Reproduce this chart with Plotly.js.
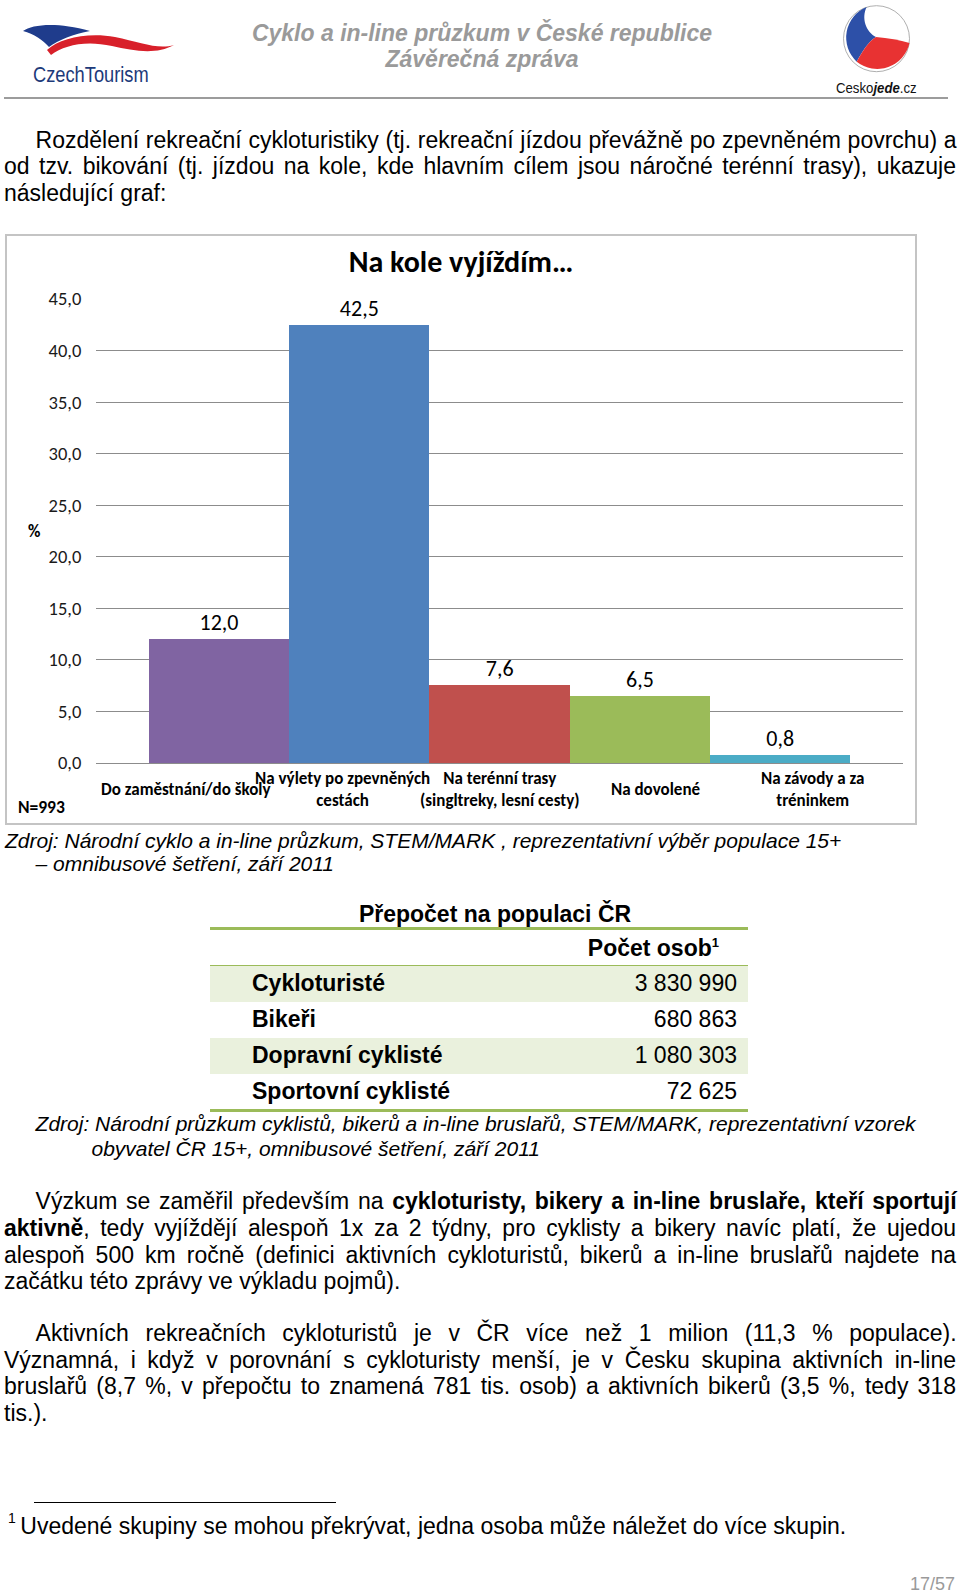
<!DOCTYPE html>
<html><head><meta charset="utf-8">
<script src="https://cdn.plot.ly/plotly-3.0.1.min.js"></script>
<style>
html,body{margin:0;padding:0;background:#fff;}
body{width:960px;height:1594px;position:relative;overflow:hidden;font-family:"Liberation Sans",Arial,sans-serif;color:#000;}
.ab{position:absolute;white-space:nowrap;}
.ln{position:absolute;height:27px;line-height:27px;font-size:23px;white-space:nowrap;}
.j{text-align:justify;text-align-last:justify;white-space:normal;}
.src{font-style:italic;font-size:21px;}
#chartbox{position:absolute;left:5px;top:234px;width:912px;height:591px;box-sizing:border-box;border:2px solid #c4c4c4;}
#chart{width:908px;height:587px;}
.trow{position:absolute;left:210px;width:538px;height:35.5px;}
.tlab{position:absolute;left:42px;top:0;line-height:35.5px;font-size:23px;font-weight:bold;white-space:nowrap;}
.tval{position:absolute;right:11px;top:0;line-height:35.5px;font-size:23px;white-space:nowrap;}
.gline{position:absolute;left:210px;width:538px;height:3px;background:#9bbb59;}
</style>
</head>
<body>
<!-- Header -->
<svg class="ab" style="left:0;top:0" width="960" height="100" viewBox="0 0 960 100">
  <path d="M23,31 C33,24 58,22 90,31 C74,34 58,40 49,47 C43,40 34,34 23,31 Z" fill="#1f3c8c"/>
  <path d="M47,50 C60,38 88,32 115,37 C140,42 158,50 174,45 C156,55 134,51 112,46 C86,40 64,45 51,55 Z" fill="#d8202a"/>
  <circle cx="876.5" cy="38.7" r="33" fill="#fff" stroke="#9a9a9a" stroke-width="0.8"/>
  <path d="M866.7,7 A33,33 0 0 0 856.7,61.7 C862,52 868,42 876,37 C866,32 861,18 866.7,7 Z" fill="#2d50a8"/>
  <path d="M876,37 C888,38 900,40 909.5,43 A33,33 0 0 1 856.7,61.7 C862,52 868,42 876,37 Z" fill="#e83232"/>
  <rect x="4" y="97" width="944" height="2" fill="#9c9c9c"/>
</svg>
<div class="ab" style="left:33px;top:63px;font-size:22px;color:#1d3a7a;line-height:24px;transform:scaleX(0.83);transform-origin:0 0;">CzechTourism</div>
<div class="ab" style="left:836px;top:79px;font-size:15px;line-height:18px;color:#111;transform:scaleX(0.88);transform-origin:0 0;">Cesko<b><i>jede</i></b>.cz</div>
<div class="ab" style="left:200px;top:20px;width:564px;text-align:center;font-style:italic;font-weight:bold;font-size:23px;line-height:26px;color:#9a9a9a;">Cyklo a in-line průzkum v České republice<br>Závěrečná zpráva</div>

<!-- Paragraph 1 -->
<div class="ln j" style="left:35.6px;width:921px;top:126.5px;">Rozdělení rekreační cykloturistiky (tj. rekreační jízdou převážně po zpevněném povrchu) a</div>
<div class="ln j" style="left:4px;width:952px;top:153.2px;">od tzv. bikování (tj. jízdou na kole, kde hlavním cílem jsou náročné terénní trasy), ukazuje</div>
<div class="ln" style="left:4px;top:179.8px;">následující graf:</div>

<div id="chartbox"><div id="chart"></div></div>

<div class="ln src" style="left:5px;top:826.5px;">Zdroj: Národní cyklo a in-line průzkum, STEM/MARK , reprezentativní výběr populace 15+</div>
<div class="ln src" style="left:35.6px;top:850px;">– omnibusové šetření, září 2011</div>

<!-- Table -->
<div class="ab" style="left:345px;top:900px;width:300px;text-align:center;font-size:23px;font-weight:bold;line-height:28px;">Přepočet na populaci ČR</div>
<div class="gline" style="top:927px;"></div>
<div class="ab" style="left:500px;top:934px;width:219px;text-align:right;font-size:23px;font-weight:bold;line-height:28px;">Počet osob<sup style="font-size:13px;vertical-align:9px;line-height:0;">1</sup></div>
<div id="tbl"></div>

<div class="ln src" style="left:35.6px;top:1110.2px;">Zdroj: Národní průzkum cyklistů, bikerů a in-line bruslařů, STEM/MARK, reprezentativní vzorek</div>
<div class="ln src" style="left:91.5px;top:1134.5px;">obyvatel ČR 15+, omnibusové šetření, září 2011</div>

<!-- Paragraph 2 -->
<div class="ln j" style="left:35.6px;width:921px;top:1188.2px;">Výzkum se zaměřil především na <b>cykloturisty, bikery a in-line bruslaře, kteří sportují</b></div>
<div class="ln j" style="left:4px;width:952px;top:1214.8px;"><b>aktivně</b>, tedy vyjíždějí alespoň 1x za 2 týdny, pro cyklisty a bikery navíc platí, že ujedou</div>
<div class="ln j" style="left:4px;width:952px;top:1241.5px;">alespoň 500 km ročně (definici aktivních cykloturistů, bikerů a in-line bruslařů najdete na</div>
<div class="ln" style="left:4px;top:1268.2px;">začátku této zprávy ve výkladu pojmů).</div>

<!-- Paragraph 3 -->
<div class="ln j" style="left:35.6px;width:921px;top:1319.8px;">Aktivních rekreačních cykloturistů je v ČR více než 1 milion (11,3&nbsp;% populace).</div>
<div class="ln j" style="left:4px;width:952px;top:1346.5px;">Významná, i když v porovnání s cykloturisty menší, je v Česku skupina aktivních in-line</div>
<div class="ln j" style="left:4px;width:952px;top:1373.2px;">bruslařů (8,7&nbsp;%, v&nbsp;přepočtu to znamená 781 tis. osob) a aktivních bikerů (3,5&nbsp;%, tedy 318</div>
<div class="ln" style="left:4px;top:1399.8px;">tis.).</div>

<!-- Footnote -->
<div class="ab" style="left:33.6px;top:1501.5px;width:302px;height:1px;background:#000;"></div>
<div class="ab" style="left:8px;top:1511px;font-size:14px;line-height:14px;">1</div>
<div class="ln" style="left:20.3px;top:1512.5px;">Uvedené skupiny se mohou překrývat, jedna osoba může náležet do více skupin.</div>
<div class="ab" style="left:850px;top:1573px;width:105px;text-align:right;font-size:18px;line-height:22px;color:#9a9a9a;">17/57</div>

<script>
// ---- Chart data ----
const chartTitle = "Na kole vyjíždím…";
const categories = [
  "Do zaměstnání/do školy",
  "Na výlety po zpevněných<br>cestách",
  "Na terénní trasy<br>(singltreky, lesní cesty)",
  "Na dovolené",
  "Na závody a za<br>tréninkem"
];
const values = [12.0, 42.5, 7.6, 6.5, 0.8];
const barColors = ["#8064a2", "#4f81bd", "#c0504d", "#9bbb59", "#4bacc6"];
const yTickVals = [0, 5, 10, 15, 20, 25, 30, 35, 40, 45];
const yUnit = "%";
const sampleNote = "N=993";

// ---- Table data ----
const tableLabels = ["Cykloturisté", "Bikeři", "Dopravní cyklisté", "Sportovní cyklisté"];
const tableValues = ["3 830 990", "680 863", "1 080 303", "72 625"];
const tableShaded = [true, false, true, false];

// build table
(function(){
  const tbl = document.getElementById('tbl');
  let html = '<div class="gline" style="top:964.5px;"></div>';
  const top0 = 966;
  const rowH = 36;
  tableLabels.forEach((lab, i) => {
    const t = top0 + i * rowH;
    html += '<div class="trow" style="top:' + t + 'px;background:' + (tableShaded[i] ? '#eaf1dd' : '#fff') + ';">' +
      '<div class="tlab">' + lab + '</div><div class="tval">' + tableValues[i] + '</div></div>';
  });
  html += '<div class="gline" style="top:' + (top0 + tableLabels.length * rowH - 1) + 'px;"></div>';
  tbl.innerHTML = html;
})();

const chartFont = "Carlito, Lato, 'Open Sans', sans-serif";

const barTrace = {
  type: 'bar',
  x: categories,
  y: values,
  marker: {color: barColors, line: {width: 0}},
  texttemplate: '%{y:.1f}',
  textposition: 'outside',
  cliponaxis: false,
  textfont: {family: chartFont, size: 22, color: '#000'},
  hoverinfo: 'skip',
  showlegend: false
};
const labelAxisTrace = {
  type: 'scatter', x: [], y: [], xaxis: 'x2', yaxis: 'y',
  showlegend: false, hoverinfo: 'skip'
};

const annotations = categories.map((c, i) => ({
  xref: 'x2', yref: 'paper', x: i, y: -0.058,
  xanchor: 'center', yanchor: 'middle',
  text: c, showarrow: false, align: 'center',
  font: {family: chartFont, size: 17, color: '#000', weight: 'bold'}
}));
annotations.push({
  xref: 'paper', yref: 'paper', x: -0.0774, y: 0.498,
  xanchor: 'center', yanchor: 'middle', text: '<b>' + yUnit + '</b>', showarrow: false,
  font: {family: chartFont, size: 17, color: '#000'}
});
annotations.push({
  xref: 'paper', yref: 'paper', x: -0.0991, y: -0.094,
  xanchor: 'left', yanchor: 'middle', text: '<b>' + sampleNote + '</b>', showarrow: false,
  font: {family: chartFont, size: 17.5, color: '#000'}
});

const layout = {
  width: 908, height: 587,
  margin: {l: 89, r: 12, t: 63, b: 60},
  paper_bgcolor: '#fff', plot_bgcolor: '#fff',
  separators: ', ',
  bargap: 0,
  title: {
    text: '<b>' + chartTitle + '</b>',
    font: {family: chartFont, size: 30, color: '#000'},
    xref: 'container', yref: 'container', x: 0.5, y: 0.956,
    xanchor: 'center', yanchor: 'middle'
  },
  xaxis: {
    type: 'category', showticklabels: false, ticks: '',
    showgrid: false, showline: false, zeroline: false,
    range: [-0.877, 4.875], fixedrange: true
  },
  xaxis2: {
    overlaying: 'x', visible: false, range: [-0.575, 4.575], fixedrange: true
  },
  yaxis: {
    range: [0, 45], tickvals: yTickVals, tickformat: '.1f',
    showgrid: true, gridcolor: '#8c8c8c', gridwidth: 1,
    zeroline: true, zerolinecolor: '#8c8c8c', zerolinewidth: 1,
    showline: false, ticks: 'outside', ticklen: 10, tickcolor: 'rgba(0,0,0,0)',
    tickfont: {family: chartFont, size: 18.5, color: '#1a1a1a'},
    fixedrange: true
  },
  annotations: annotations,
  showlegend: false
};

Plotly.newPlot('chart', [barTrace, labelAxisTrace], layout, {staticPlot: true, displayModeBar: false});
</script>
</body></html>
